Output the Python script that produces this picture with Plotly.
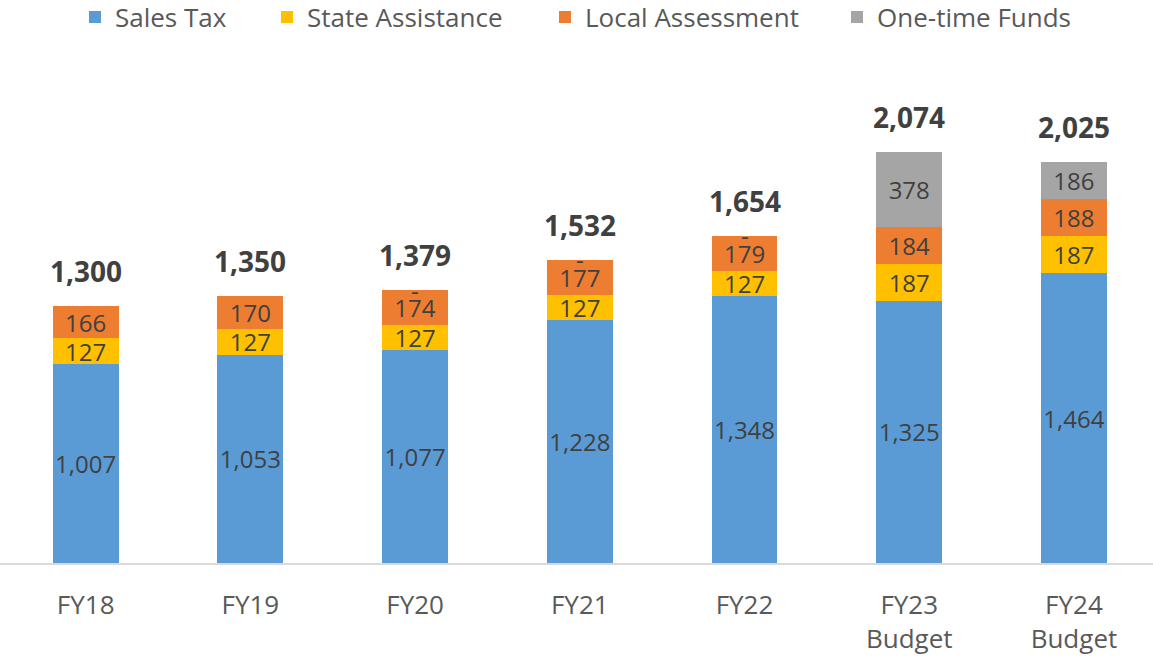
import plotly.graph_objects as go

categories = ["FY18", "FY19", "FY20", "FY21", "FY22", "FY23<br>Budget", "FY24<br>Budget"]
sales_tax = [1007, 1053, 1077, 1228, 1348, 1325, 1464]
state_assistance = [127, 127, 127, 127, 127, 187, 187]
local_assessment = [166, 170, 174, 177, 179, 184, 188]
one_time_funds = [None, None, 0, 0, 0, 378, 186]
totals = [1300, 1350, 1379, 1532, 1654, 2074, 2025]
series_names = ["Sales Tax", "State Assistance", "Local Assessment", "One-time Funds"]
series_colors = ["#5B9BD5", "#FFC000", "#ED7D31", "#A5A5A5"]

FONT = "Open Sans"
LABEL_COLOR = "#404040"
W, HT = 1153, 660
T, B = 60, 97
H = HT - T - B

def fmt(v):
    return "" if not v else f"{v:,}"

fig = go.Figure()
legend_left_px = [75, 267, 545, 837]
legend_keys = ["legend", "legend2", "legend3", "legend4"]
for k, (name, vals, color) in enumerate(zip(series_names,
                                            [sales_tax, state_assistance, local_assessment, one_time_funds],
                                            series_colors)):
    fig.add_trace(go.Bar(
        name=name, x=categories, y=vals,
        marker=dict(color=color, line=dict(width=0)),
        text=[fmt(v) for v in vals], textposition="inside",
        insidetextanchor="middle", textangle=0,
        textfont=dict(family=FONT, size=24, color=LABEL_COLOR),
        constraintext="none",
        hoverinfo="name+y",
        legend=legend_keys[k],
    ))

# zero-value labels ("-") at the top of the stack
for i, v in enumerate(one_time_funds):
    if v == 0:
        top = sales_tax[i] + state_assistance[i] + local_assessment[i]
        fig.add_annotation(x=categories[i], y=top, text="-", showarrow=False,
                           yanchor="middle", yshift=0,
                           font=dict(family=FONT, size=24, color=LABEL_COLOR))

for c, t in zip(categories, totals):
    fig.add_annotation(x=c, y=t, text=f"<b>{t:,}</b>", showarrow=False,
                       yanchor="bottom", yshift=14,
                       font=dict(family=FONT, size=28, color=LABEL_COLOR))

legend_style = dict(orientation="h", xanchor="left", yanchor="middle",
                    y=1 + (T - 17) / H, bgcolor="rgba(0,0,0,0)",
                    font=dict(family=FONT, size=26, color="#595959"))
legends = {}
for key, px in zip(legend_keys, legend_left_px):
    legends[key] = dict(legend_style, x=px / W)

fig.update_layout(
    width=W, height=HT,
    barmode="stack", bargap=0.6,
    plot_bgcolor="white", paper_bgcolor="white",
    margin=dict(l=0, r=0, t=T, b=B, autoexpand=False),
    xaxis=dict(showline=True, linecolor="#D9D9D9", linewidth=1.5,
               tickfont=dict(family=FONT, size=26, color="#595959"),
               ticks="", range=[-0.52, 6.48], automargin=False,
               ticklabelstandoff=18),
    yaxis=dict(visible=False, range=[0, H / 0.198], automargin=False),
    showlegend=True,
    **legends,
)

fig.write_html("out.html", config={"displayModeBar": False},
               post_script="document.body.style.margin='0';")
